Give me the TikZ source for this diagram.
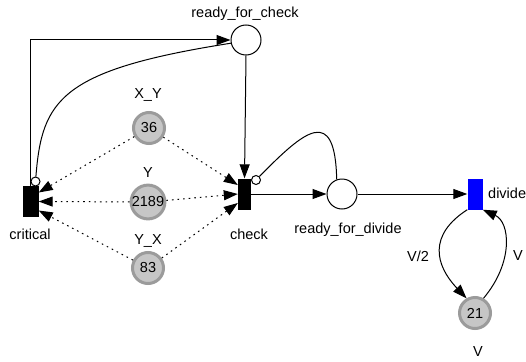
\documentclass[tikz,border=0pt]{standalone}
\usepackage{fontspec}
\setmainfont{Liberation Sans}
\usetikzlibrary{arrows.meta}
\definecolor{tokfill}{HTML}{C6C6C6}
\definecolor{tokring}{HTML}{9B9B9B}
\begin{document}
\begin{tikzpicture}[x=1pt,y=-1pt,
  lblfont/.style={font=\fontsize{14.5}{16}\selectfont},
  place/.style={circle,draw,line width=1pt,fill=white,minimum size=30pt,inner sep=0pt},
  tokplace/.style={circle,draw=tokring,line width=3pt,fill=tokfill,minimum size=31pt,inner sep=0pt,lblfont},
  trans/.style={rectangle,fill=black,minimum width=13pt,minimum height=31pt,inner sep=0pt},
  inhibc/.style={circle,draw,line width=1pt,fill=white,minimum size=9pt,inner sep=0pt},
  lbl/.style={lblfont,inner sep=0pt},
  arc/.style={line width=1pt,-{Triangle[length=14pt,width=10pt]}},
  readarc/.style={arc,dash pattern=on 1.6pt off 4pt},
  plainarc/.style={line width=1pt},
]
\useasboundingbox (0,0) rectangle (526,361);

% places
\node[place] (rfc) at (246,40) {};
\node[place] (rfd) at (342,194) {};
\node[tokplace] (xy) at (149,128) {36};
\node[tokplace] (y)  at (148,202) {2189};
\node[tokplace] (yx) at (148,268) {83};
\node[tokplace] (v)  at (475,313) {21};

% transitions
\node[trans,minimum width=16pt] (crit) at (30.5,201.5) {};
\node[trans] (chk) at (244.5,194) {};
\node[trans,fill=blue,minimum width=15pt] (div) at (475,194) {};

% labels
\node[lbl] (lrfc) at (245,14) {ready\_for\_check};
\node[lbl] (lxy) at (148,95) {X\_Y};
\node[lbl] (ly) at (148,173) {Y};
\node[lbl] (lyx) at (148,241) {Y\_X};
\node[lbl] (lcrit) at (30,234) {critical};
\node[lbl] (lchk) at (249,234) {check};
\node[lbl] (lrfd) at (348,230) {ready\_for\_divide};
\node[lbl,anchor=west] (ldiv) at (488,193) {divide};
\node[lbl] (lhalf) at (418,256) {V/2};
\node[lbl] (lvr) at (518,256) {V};
\node[lbl] (lv) at (478,352) {V};

% arcs
\draw[arc] (crit.north) |- (rfc.west);
\draw[arc] (rfc.south) -- (chk.north);
\draw[arc] (chk.east) -- (rfd.west);
\draw[arc] (rfd.east) -- (div.west);

% inhibitor arcs
\node[inhibc] (critinh) at (35.5,181.5) {};
\node[inhibc] (chkinh) at (256,180) {};
\draw[plainarc] (rfc.192) .. controls (60,70) and (42,100) .. (critinh);
\draw[plainarc] (rfd.110) .. controls (335,105) and (305,130) .. (chkinh);

% read arcs
\draw[readarc] (xy) -- ([yshift=9pt]crit.east);
\draw[readarc] (y)  -- (crit.east);
\draw[readarc] (yx) -- ([yshift=-9pt]crit.east);
\draw[readarc] (xy) -- ([yshift=9pt]chk.west);
\draw[readarc] (y)  -- (chk.west);
\draw[readarc] (yx) -- ([yshift=-9pt]chk.west);

% divide loop
\draw[arc] (div.south west) .. controls (428,235) and (435,265) .. (v.120);
\draw[arc] (v.60) .. controls (514,262) and (510,222) .. (div.south east);
\end{tikzpicture}
\end{document}
